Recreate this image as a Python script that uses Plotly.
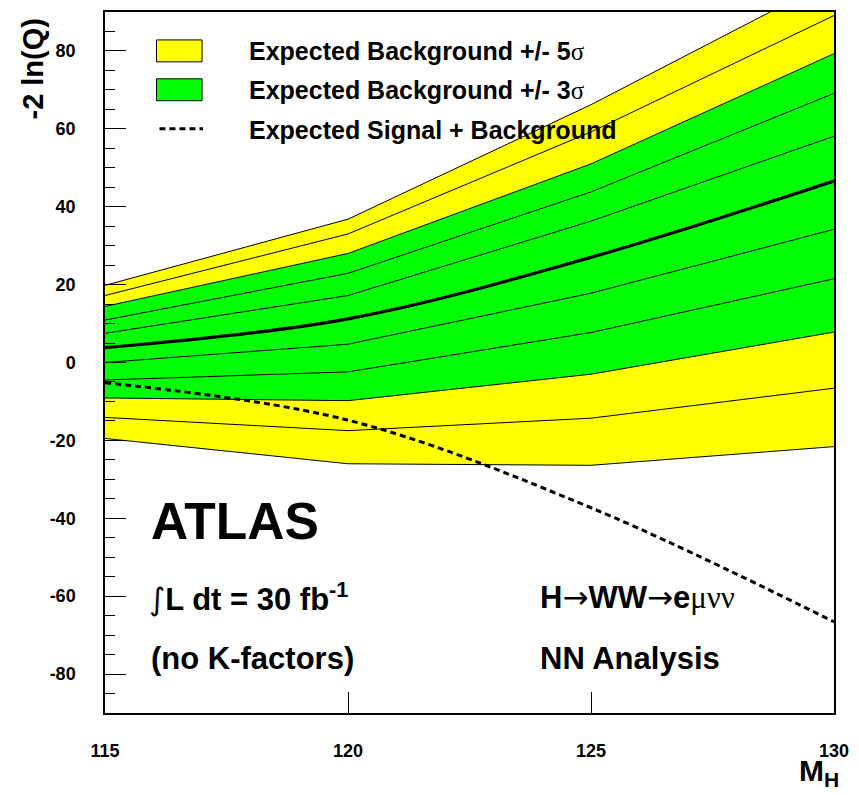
import plotly.graph_objects as go

# ---- data ----
mass = [115, 120, 125, 130]
minus5 = [-19.5, -26.0, -26.4, -21.6]
minus4 = [-14.1, -17.5, -14.3, -6.6]
minus3 = [-9.1, -9.8, -3.0, 7.8]
minus2 = [-4.5, -2.4, 7.7, 21.5]
minus1 = [0.0, 4.7, 17.8, 34.2]
median = [3.8, 11.2, 27.0, 46.6]
plus1 = [7.5, 17.2, 36.3, 58.1]
plus2 = [10.9, 22.9, 43.8, 69.1]
plus3 = [14.4, 28.0, 51.0, 79.3]
plus4 = [17.2, 33.0, 59.2, 89.1]
plus5 = [19.8, 36.8, 66.2, 98.5]
signal = [-5.2, -14.8, -37.3, -66.6]

x_ticks = [115, 120, 125, 130]
y_ticks = [-80, -60, -40, -20, 0, 20, 40, 60, 80]

YELLOW = "#FFFF00"
GREEN = "#00FF00"

fig = go.Figure()

bands = [
    (minus5, None),
    (minus4, YELLOW),
    (minus3, YELLOW),
    (minus2, GREEN),
    (minus1, GREEN),
    (plus1, GREEN),
    (plus2, GREEN),
    (plus3, GREEN),
    (plus4, YELLOW),
    (plus5, YELLOW),
]
for vals, col in bands:
    fig.add_trace(go.Scatter(
        x=mass, y=vals, mode="lines",
        line=dict(color="black", width=1),
        fill="tonexty" if col else None,
        fillcolor=col,
        showlegend=False, hoverinfo="skip",
    ))

fig.add_trace(go.Scatter(
    x=mass, y=median, mode="lines",
    line=dict(color="black", width=3.2, shape="spline"),
    showlegend=False, hoverinfo="skip",
))
fig.add_trace(go.Scatter(
    x=mass, y=signal, mode="lines",
    line=dict(color="black", width=3, shape="spline", dash="6px,4px"),
    showlegend=False, hoverinfo="skip",
))

L, R, T, B = 105, 18, 10, 82
W, H = 859, 795
PW, PH = W - L - R, H - T - B


def px(x):
    return (x - L) / PW


def py(y):
    return (T + PH - y) / PH


shapes = [
    dict(type="rect", xref="paper", yref="paper",
         x0=px(157), x1=px(203), y0=py(60), y1=py(38),
         fillcolor=YELLOW, line=dict(color="black", width=1)),
    dict(type="rect", xref="paper", yref="paper",
         x0=px(157), x1=px(203), y0=py(99), y1=py(77),
         fillcolor=GREEN, line=dict(color="black", width=1)),
    dict(type="line", xref="paper", yref="paper",
         x0=px(160), x1=px(204), y0=py(127), y1=py(127),
         line=dict(color="black", width=3, dash="6px,4px")),
]

SIG = "<span style='font-weight:normal;font-family:Liberation Serif'>"
SYM = "<span style='font-weight:normal;font-family:DejaVu Sans'>"
annotations = [
    dict(text="Expected Background +/- 5" + SIG + "σ</span>", x=px(248), y=py(49)),
    dict(text="Expected Background +/- 3" + SIG + "σ</span>", x=px(248), y=py(88)),
    dict(text="Expected Signal + Background", x=px(248), y=py(128)),
]
for a in annotations:
    a.update(xref="paper", yref="paper", xanchor="left", yanchor="middle",
             showarrow=False, font=dict(size=25))

big = [
    dict(text="ATLAS", x=px(149), y=py(520), font=dict(size=51.5)),
    dict(text=SYM + "∫</span>L dt = 30 fb<sup>-1</sup>", x=px(147), y=py(597), font=dict(size=31)),
    dict(text="(no K-factors)", x=px(149), y=py(658), font=dict(size=31)),
    dict(text="H" + SYM + "→</span>WW" + SYM + "→</span>e" + SIG + "μνν</span>",
         x=px(542), y=py(597), font=dict(size=31)),
    dict(text="NN Analysis", x=px(542), y=py(658), font=dict(size=31)),
]
for a in big:
    a.update(xref="paper", yref="paper", xanchor="left", yanchor="middle", showarrow=False)
annotations += big

annotations.append(dict(text="M<sub>H</sub>", xref="paper", yref="paper",
                        x=px(848), y=py(773), xanchor="right", yanchor="middle",
                        showarrow=False, font=dict(size=30)))
annotations.append(dict(text="-2 ln(Q)", xref="paper", yref="paper",
                        x=px(32), y=py(67), xanchor="center", yanchor="middle",
                        textangle=-90, showarrow=False, font=dict(size=29)))

fig.update_layout(
    width=W, height=H, autosize=False,
    margin=dict(l=L, r=R, t=T, b=B, pad=0),
    paper_bgcolor="white", plot_bgcolor="white",
    font=dict(family="Liberation Sans", color="black", weight="bold"),
    shapes=shapes, annotations=annotations,
    xaxis=dict(range=[115, 130], tickvals=x_ticks, ticktext=[str(v) for v in x_ticks],
               ticks="inside", ticklen=21, tickwidth=1, tickcolor="black",
               showline=True, linecolor="black", linewidth=1.5, mirror=True,
               showgrid=False, zeroline=False,
               tickfont=dict(size=18), ticklabelstandoff=21),
    yaxis=dict(range=[-90, 90], tickvals=y_ticks, ticktext=[str(v) for v in y_ticks],
               ticks="inside", ticklen=21, tickwidth=1, tickcolor="black",
               minor=dict(ticks="inside", ticklen=10, tickwidth=1, tickcolor="black",
                          dtick=5, tick0=0, showgrid=False),
               showline=True, linecolor="black", linewidth=1.5, mirror=True,
               showgrid=False, zeroline=False,
               tickfont=dict(size=18), ticklabelstandoff=24),
)

fig.write_html("out.html")
